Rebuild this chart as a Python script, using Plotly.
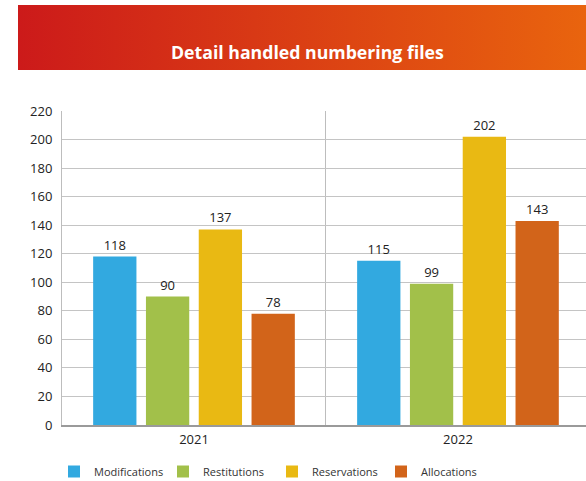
import base64
import plotly.graph_objects as go

years = ["2021", "2022"]
series_names = ["Modifications", "Restitutions", "Reservations", "Allocations"]
modifications = [118, 115]
restitutions = [90, 99]
reservations = [137, 202]
allocations = [78, 143]
colors = ["#32a9e0", "#a2c04a", "#e9b913", "#d2641a"]
y_ticks = list(range(0, 221, 20))

values = [modifications, restitutions, reservations, allocations]

fig = go.Figure()
for name, vals, col in zip(series_names, values, colors):
    fig.add_trace(go.Bar(
        name=name, x=years, y=vals, marker=dict(color=col, line=dict(width=0)),
        text=[str(v) for v in vals], textposition="outside",
        textfont=dict(size=13, color="#222222", family="Open Sans"),
        cliponaxis=False,
    ))

W, H = 586, 481
L, R, T, B = 62, 0, 111, 56
pw, ph = W - L - R, H - T - B

def px_x(p):
    return (p - L) / pw

def px_y(p):
    return (H - B - p) / ph

svg = ('<svg xmlns="http://www.w3.org/2000/svg" width="568" height="65" preserveAspectRatio="none">'
       '<defs><linearGradient id="g" x1="0" y1="0" x2="1" y2="0">'
       '<stop offset="0" stop-color="#cc1a1a"/><stop offset="1" stop-color="#e9640e"/>'
       '</linearGradient></defs><rect width="568" height="65" fill="url(#g)"/></svg>')
src = "data:image/svg+xml;base64," + base64.b64encode(svg.encode()).decode()

fig.update_layout(
    width=W, height=H,
    margin=dict(l=L, r=R, t=T, b=B, autoexpand=False),
    paper_bgcolor="white", plot_bgcolor="white",
    barmode="group", bargap=0.20, bargroupgap=0.18,
    font=dict(family="Open Sans", color="#222222"),
    showlegend=True,
    legend=dict(orientation="h", x=px_x(54), xanchor="left", y=px_y(457), yanchor="top",
                font=dict(size=11, color="#333333"), entrywidth=64, traceorder="normal",
                itemwidth=30),
    images=[dict(source=src, xref="paper", yref="paper", x=px_x(18), y=px_y(5),
                 sizex=px_x(586) - px_x(18), sizey=px_y(5) - px_y(70),
                 xanchor="left", yanchor="top", sizing="stretch", layer="below")],
    annotations=[dict(text="<b>Detail handled numbering files</b>", xref="paper", yref="paper",
                      x=px_x(307), y=px_y(38), showarrow=False,
                      font=dict(size=17.7, color="white", family="Open Sans"))],
)
fig.update_xaxes(range=[-0.5, 1.485], tickson="boundaries", showgrid=True, gridcolor="#bdbdbd",
                 gridwidth=1, showline=True, linecolor="#9a9a9a", linewidth=1.5, ticks="",
                 tickfont=dict(size=13, color="#222222"), ticklabelstandoff=2, fixedrange=True)
fig.update_yaxes(range=[0, 220], tickvals=y_ticks, showgrid=True, gridcolor="#c4c4c4", gridwidth=1,
                 showline=True, linecolor="#bdbdbd", linewidth=1, ticks="", zeroline=False,
                 tickfont=dict(size=13, color="#222222"), ticklabelstandoff=6, mirror=False,
                 fixedrange=True)

fig.write_html("out.html", config={"displayModeBar": False},
               post_script="document.body.style.margin='0';document.body.style.overflow='hidden';")
